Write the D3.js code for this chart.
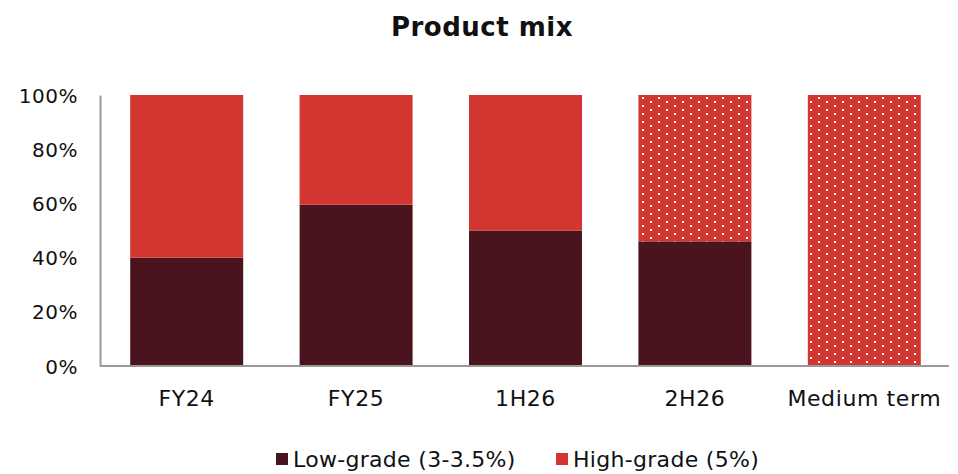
<!DOCTYPE html>
<html>
<head>
<meta charset="utf-8">
<script src="https://cdn.jsdelivr.net/npm/d3@7"></script>
<style>
  body { margin: 0; background: #fff; }
  text { font-family: "DejaVu Sans", sans-serif; fill: #111; }
</style>
</head>
<body>
<script>
const categories = ["FY24", "FY25", "1H26", "2H26", "Medium term"]
const lowGrade = [40, 59.5, 50, 46, 0]
const highGrade = [60, 40.5, 50, 54, 100]
const dotted = [false, false, false, true, true]
const yTicks = [0, 20, 40, 60, 80, 100]
const seriesNames = ["Low-grade (3-3.5%)", "High-grade (5%)"]

const width = 958, height = 474
const darkRed = "#4a141e", red = "#d13730"

const svg = d3.select("body").append("svg")
    .attr("width", width)
    .attr("height", height)

const defs = svg.append("defs")
const pat = defs.append("pattern")
    .attr("id", "dots")
    .attr("patternUnits", "userSpaceOnUse")
    .attr("width", 16).attr("height", 8)
pat.append("rect").attr("width", 16).attr("height", 8).attr("fill", red)
pat.append("rect").attr("x", 2).attr("y", 1).attr("width", 2).attr("height", 2).attr("fill", "#fff")
pat.append("rect").attr("x", 10).attr("y", 5).attr("width", 2).attr("height", 2).attr("fill", "#fff")

const x = d3.scaleBand()
    .domain(categories)
    .range([102, 949])
    .paddingInner(0.333)
    .paddingOuter(0.1665)

const y = d3.scaleLinear().domain([0, 100]).range([366, 95])

svg.append("text")
    .attr("x", 482).attr("y", 36)
    .attr("text-anchor", "middle")
    .style("font-size", "26px").style("font-weight", "bold")
    .style("letter-spacing", "0.5px")
    .text("Product mix")

// bars
const g = svg.append("g")
categories.forEach((c, i) => {
  g.append("rect")
    .attr("x", x(c)).attr("width", x.bandwidth())
    .attr("y", y(lowGrade[i])).attr("height", y(0) - y(lowGrade[i]))
    .attr("fill", darkRed)
  g.append("rect")
    .attr("x", x(c)).attr("width", x.bandwidth())
    .attr("y", y(lowGrade[i] + highGrade[i]))
    .attr("height", y(lowGrade[i]) - y(lowGrade[i] + highGrade[i]))
    .attr("fill", dotted[i] ? "url(#dots)" : red)
})

// y axis
const yAxis = svg.append("g")
    .attr("transform", "translate(100,0)")
    .call(d3.axisLeft(y).tickValues(yTicks).tickSize(0).tickPadding(22).tickFormat(d => d + "%"))
yAxis.select(".domain").attr("stroke", "#999").attr("stroke-width", 2)
yAxis.selectAll("text").style("font-size", "20px").style("letter-spacing", "0.5px").attr("dy", "0.35em")

// x axis
const xAxis = svg.append("g")
    .attr("transform", "translate(0,366)")
    .call(d3.axisBottom(x).tickSize(0).tickPadding(24))
xAxis.select(".domain").attr("d", "M100,0H949").attr("stroke", "#999").attr("stroke-width", 2)
xAxis.selectAll("text").style("font-size", "22px").style("letter-spacing", "0.6px")

// legend
const legend = svg.append("g")
const legendX = [276, 556]
seriesNames.forEach((s, i) => {
  legend.append("rect")
    .attr("x", legendX[i]).attr("y", 453)
    .attr("width", 12).attr("height", 12)
    .attr("fill", i === 0 ? darkRed : red)
  legend.append("text")
    .attr("x", legendX[i] + 17).attr("y", 467)
    .style("font-size", "22px").style("letter-spacing", "0.3px")
    .text(s)
})
</script>
</body>
</html>
